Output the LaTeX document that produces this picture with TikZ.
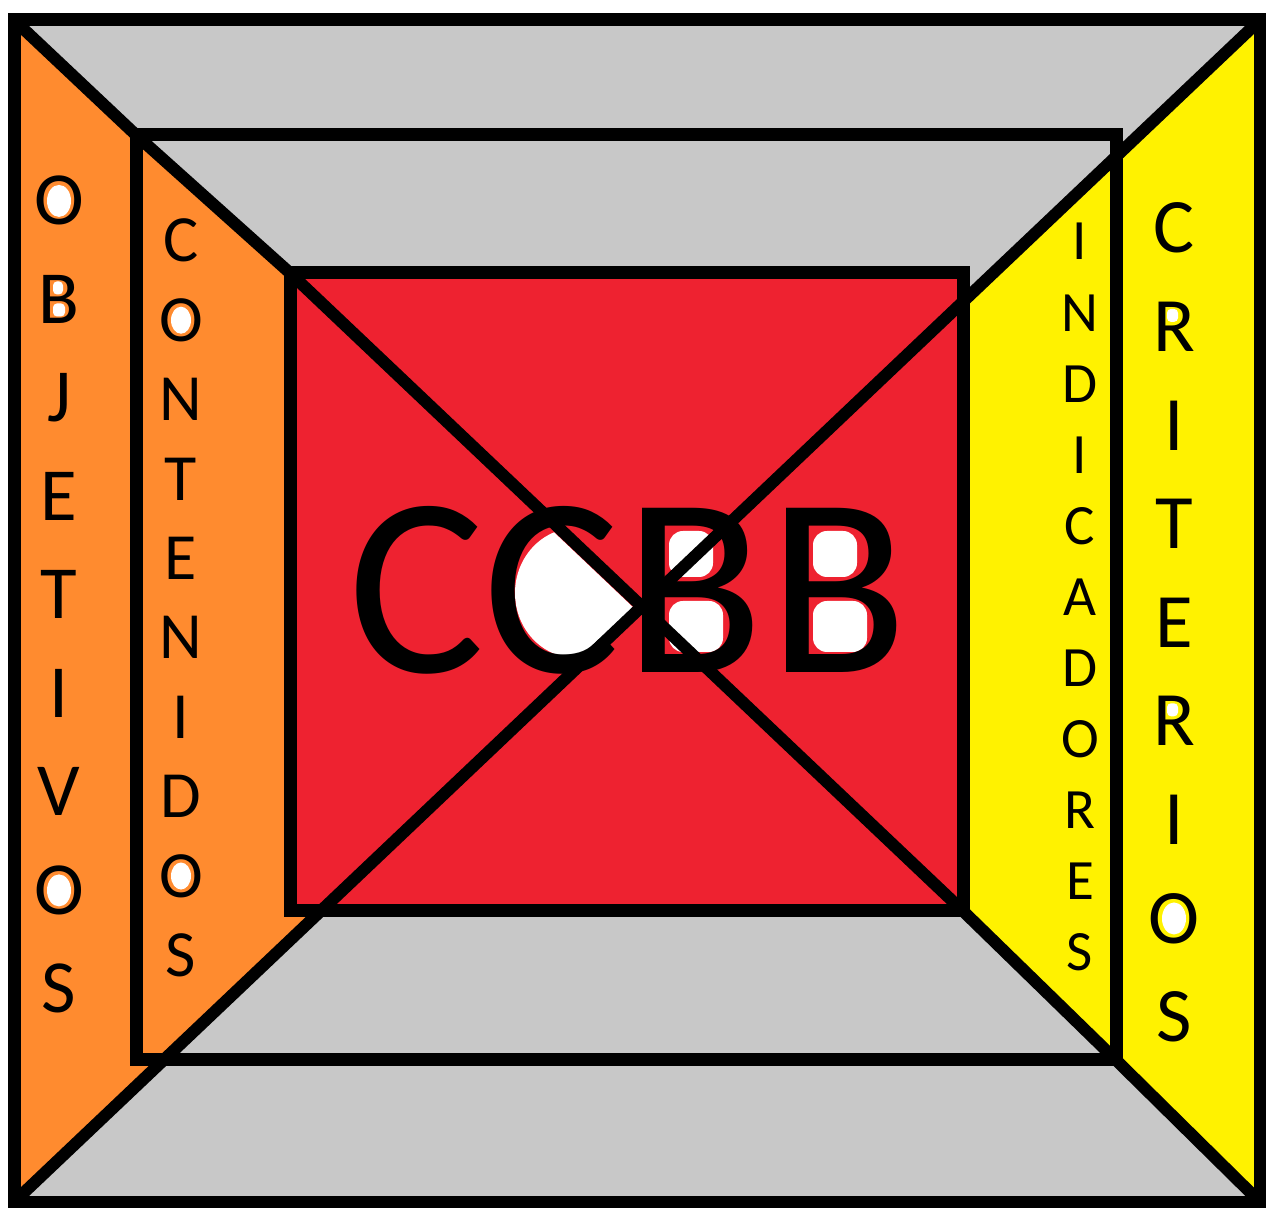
\documentclass[tikz,border=0pt]{standalone}
\usepackage{fontspec}
\setmainfont{Carlito}
\usetikzlibrary{calc}
\pgfdeclarelayer{bg}
\pgfdeclarelayer{holes}
\pgfsetlayers{bg,holes,main}
\definecolor{bggray}{HTML}{C8C8C8}
\definecolor{orng}{HTML}{FF8B2F}
\definecolor{ylw}{HTML}{FFF200}
\definecolor{rd}{HTML}{EE2230}
\begin{document}
\begin{tikzpicture}[x=0.5pt,y=-0.5pt,
  frame/.style={line width=6.5pt, line join=miter},
  diag/.style={line width=6pt, line join=round},
  letter/.style={anchor=base, inner sep=0pt, text=black},
  objl/.style={letter, font=\fontsize{37.5pt}{37.5pt}\selectfont},
  conl/.style={letter, font=\fontsize{33pt}{33pt}\selectfont},
  indl/.style={letter, font=\fontsize{28.5pt}{28.5pt}\selectfont},
  cril/.style={letter, font=\fontsize{38.5pt}{38.5pt}\selectfont},
  bigl/.style={letter, font=\fontsize{128pt}{128pt}\selectfont},
  hole/.style={fill=white, draw=none}]
\useasboundingbox (0,0) rectangle (1266,1208);
% corner points
\coordinate (oTL) at (14,20);   \coordinate (oTR) at (1260,20);
\coordinate (oBL) at (14,1202); \coordinate (oBR) at (1260,1202);
\coordinate (mTL) at (136,135); \coordinate (mTR) at (1116,135);
\coordinate (mBL) at (136,1060);\coordinate (mBR) at (1116,1060);
\coordinate (iTL) at (290,273); \coordinate (iTR) at (963,273);
\coordinate (iBL) at (290,911); \coordinate (iBR) at (963,911);
% anti-diagonal crossings
\coordinate (aM) at (1116,156.6);
\coordinate (aI) at (963,301.7);
\coordinate (bI) at (320.7,911);
\coordinate (bM) at (163.7,1060);
\coordinate (ctr) at (637,611);
% fills
\begin{pgfonlayer}{bg}
\fill[bggray] (oTL) rectangle (oBR);
\fill[orng] (oTL) -- (mTL) -- (mBL) -- (bM) -- (oBL) -- cycle;
\fill[orng] (mTL) -- (iTL) -- (iBL) -- (bI) -- (bM) -- (mBL) -- cycle;
\fill[ylw] (oTR) -- (aM) -- (mBR) -- (oBR) -- cycle;
\fill[ylw] (aM) -- (aI) -- (iBR) -- (mBR) -- cycle;
\fill[rd] (iTL) rectangle (iBR);
\end{pgfonlayer}
% side letters
\foreach \l [count=\i] in {O,B,J,E,T,I,V,O,S}
  \node[objl] (obj\i) at (59,{225+98.5*(\i-1)}) {\l};
\foreach \l [count=\i] in {C,O,N,T,E,N,I,D,O,S}
  \node[conl] (con\i) at (181,{262+79.4*(\i-1)}) {\l};
\foreach \l [count=\i] in {I,N,D,I,C,A,D,O,R,E,S}
  \node[indl] (ind\i) at (1080,{260+71.1*(\i-1)}) {\l};
\foreach \l [count=\i] in {C,R,I,T,E,R,I,O,S}
  \node[cril] (cri\i) at (1174,{253+98.6*(\i-1)}) {\l};
% central text
\node[bigl] (c1) at (417,673) {C};
\node[bigl] (c2) at (552,673) {C};
\node[bigl] (b1) at (694,673) {B};
\node[bigl] (b2) at (838,673) {B};
% white counters (paint artefacts)
\begin{pgfonlayer}{holes}
\foreach \n in {obj1,obj8,cri8}
  \fill[hole] (\n.center) ellipse [x radius=12, y radius=16];
\foreach \n in {con2,con9}
  \fill[hole] (\n.center) ellipse [x radius=10, y radius=13.5];
\fill[hole, rounded corners=2pt] ($(obj2.center)+(-6,-18)$) rectangle ($(obj2.center)+(4,-5)$);
\fill[hole, rounded corners=2pt] ($(obj2.center)+(-6,4)$) rectangle ($(obj2.center)+(6,17)$);
\foreach \n in {cri2,cri6}
  \fill[hole, rounded corners=2pt] ($(\n.center)+(-7,-18)$) rectangle ($(\n.center)+(4,-5)$);
\begin{scope}
  \clip (oTL) -- (ctr) -- (oBL) -- cycle;
  \fill[hole] (576,593) ellipse [x radius=61, y radius=65];
\end{scope}
\foreach \n in {b1,b2} {
  \fill[hole, rounded corners=7pt] ($(\n.base)+(-25,-142)$) rectangle ($(\n.base)+(19,-96)$);
  \fill[hole, rounded corners=7pt] ($(\n.base)+(-25,-72)$) rectangle ($(\n.base)+(29,-21)$);
}
\end{pgfonlayer}
% outlines
\draw[frame] (oTL) rectangle (oBR);
\draw[frame] (mTL) rectangle (mBR);
\draw[frame] (iTL) rectangle (iBR);
\draw[diag] (oTL) -- (mTL) -- (iTL) -- (iBR) -- (mBR) -- (oBR);
\draw[diag] (oTR) -- (oBL);
\end{tikzpicture}
\end{document}
